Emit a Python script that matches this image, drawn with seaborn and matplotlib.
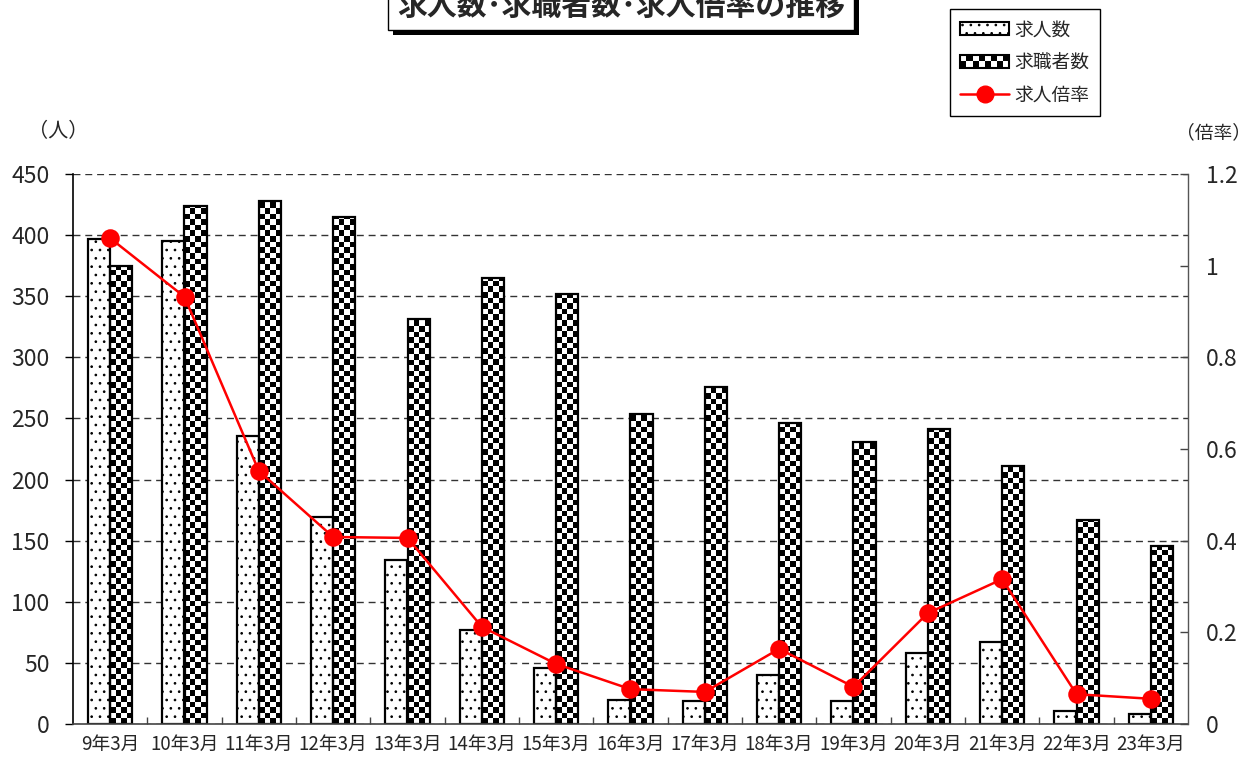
import numpy as np
import pandas as pd
import matplotlib
matplotlib.use('Agg')
import matplotlib.pyplot as plt
import matplotlib.patheffects as pe
from matplotlib.patches import Rectangle
from matplotlib.lines import Line2D
from matplotlib.legend_handler import HandlerBase
import seaborn as sns

# Data
months = ['9年3月', '10年3月', '11年3月', '12年3月', '13年3月', '14年3月', '15年3月',
          '16年3月', '17年3月', '18年3月', '19年3月', '20年3月', '21年3月', '22年3月', '23年3月']
openings = [397, 395, 236, 169, 134, 77, 46, 20, 19, 40, 19, 58, 67, 11, 8]
seekers = [375, 424, 428, 415, 331, 365, 352, 254, 276, 246, 231, 241, 211, 167, 146]
ratio = [1.06, 0.932, 0.552, 0.408, 0.406, 0.212, 0.131, 0.076, 0.070, 0.164,
         0.081, 0.242, 0.316, 0.065, 0.055]
series = ['求人数', '求職者数', '求人倍率']
left_ticks = [0, 50, 100, 150, 200, 250, 300, 350, 400, 450]
right_ticks = [0, 0.2, 0.4, 0.6, 0.8, 1.0, 1.2]
right_labels = ['0', '0.2', '0.4', '0.6', '0.8', '1', '1.2']

df = pd.DataFrame({
    'month': months * 2,
    'value': openings + seekers,
    'series': [series[0]] * len(months) + [series[1]] * len(months),
})

sns.set_theme(style='white')
plt.rcParams['font.family'] = ['Noto Sans CJK JP', 'DejaVu Sans']
plt.rcParams['hatch.linewidth'] = 0.7

fig = plt.figure(figsize=(12.53, 7.57), dpi=100)
fig.subplots_adjust(left=73 / 1253, right=1188 / 1253, bottom=33 / 757, top=1 - 174 / 757)
ax = fig.add_subplot(111)

sns.barplot(data=df, x='month', y='value', hue='series', palette=['white', 'white'],
            saturation=1, edgecolor='black', linewidth=1.6, width=0.6, legend=False, ax=ax)
ax.set_xlim(-0.5, len(months) - 0.5)
ax.set_ylim(0, 450)

# dotted bars
for bar in ax.containers[0]:
    bar.set_hatch('..')
    bar.set_zorder(2)

# checkerboard bars: an image clipped to each bar
sx = ax.transData.transform((1, 0))[0] - ax.transData.transform((0, 0))[0]
sy = ax.transData.transform((0, 1))[1] - ax.transData.transform((0, 0))[1]
cell_px = 5.6
for bar in ax.containers[1]:
    x0, y0, w, h = bar.get_x(), bar.get_y(), bar.get_width(), bar.get_height()
    ncol = max(1, int(round(w * sx / cell_px)))
    cy = cell_px / sy
    nrow = int(np.ceil(h / cy))
    grid = np.indices((nrow, ncol)).sum(axis=0) % 2
    img = ax.imshow(grid, cmap='gray', vmin=0, vmax=1, origin='lower', aspect='auto',
                    interpolation='nearest', extent=(x0, x0 + w, y0, y0 + nrow * cy), zorder=1.5)
    img.set_clip_path(bar)
    bar.set_facecolor('none')
    bar.set_zorder(2)

ax.set_xlim(-0.5, len(months) - 0.5)
ax.set_ylim(0, 450)
ax.set_yticks(left_ticks)
ax.set_axisbelow(True)
ax.yaxis.grid(True, linestyle=(0, (5, 3.5)), color='#333333', linewidth=1)
ax.xaxis.grid(False)
ax.set_xlabel('')
ax.set_ylabel('')
ax.tick_params(axis='y', direction='out', length=6, width=1, color='black', pad=11, labelsize=16.5)
ax.tick_params(axis='x', which='major', length=0, pad=7, labelsize=13.5)
ax.set_xticks(np.arange(0.5, len(months) - 1, 1), minor=True)
ax.tick_params(axis='x', which='minor', direction='in', length=5, width=1, color='#444444', bottom=True)
for s in ['top', 'right']:
    ax.spines[s].set_visible(False)
ax.spines['left'].set_color('black')
ax.spines['left'].set_linewidth(1.2)
ax.spines['bottom'].set_color('#444444')
ax.spines['bottom'].set_linewidth(1.2)

# ratio line on the right axis
ax2 = ax.twinx()
sns.pointplot(x=months, y=ratio, ax=ax2, color='red', markers='o', markersize=12,
              linewidth=1.8, errorbar=None)
for ln in ax2.lines:
    ln.set_color('red')
    ln.set_markerfacecolor('red')
    ln.set_markeredgecolor('red')
ax2.set_xlim(-0.5, len(months) - 0.5)
ax2.set_ylim(0, 1.2)
ax2.set_yticks(right_ticks)
ax2.set_yticklabels(right_labels)
ax2.set_xlabel('')
ax2.set_ylabel('')
ax2.grid(False)
ax2.tick_params(axis='y', direction='in', length=6, width=1, color='#444444', pad=13, labelsize=16.5)
for s in ['top', 'left', 'bottom']:
    ax2.spines[s].set_visible(False)
ax2.spines['right'].set_color('#555555')
ax2.spines['right'].set_linewidth(1)

# axis unit labels
fig.text(58 / 1253, 1 - 132 / 757, '（人）', ha='center', va='center', fontsize=14.5)
fig.text(1251 / 1253, 1 - 133 / 757, '（倍率）', ha='right', va='center', fontsize=13.5)

# boxed title with shadow (the reference cuts it at the top edge)
title = fig.text(621 / 1253, 1 - 6 / 757, '求人数･求職者数･求人倍率の推移', ha='center', va='center',
                 fontsize=21.5, fontweight='bold',
                 bbox=dict(boxstyle='square,pad=0.3', facecolor='white', edgecolor='black', linewidth=1))
title.get_bbox_patch().set_path_effects(
    [pe.withSimplePatchShadow(offset=(3.5, -3.5), shadow_rgbFace='black', alpha=1)])


class CheckerHandler(HandlerBase):
    def create_artists(self, legend, orig_handle, xdescent, ydescent, width, height, fontsize, trans):
        x0, y0 = -xdescent, -ydescent
        ncol, nrow = 8, 2
        cw, ch = width / ncol, height / nrow
        arts = [Rectangle((x0, y0), width, height, facecolor='white', edgecolor='none', transform=trans)]
        for i in range(nrow):
            for j in range(ncol):
                if (i + j) % 2 == 0:
                    arts.append(Rectangle((x0 + j * cw, y0 + i * ch), cw, ch, facecolor='black',
                                          edgecolor='none', transform=trans))
        arts.append(Rectangle((x0, y0), width, height, facecolor='none', edgecolor='black',
                              linewidth=1.5, transform=trans))
        return arts


h_dot = Rectangle((0, 0), 1, 1, facecolor='white', edgecolor='black', hatch='..', linewidth=1.5)
h_chk = Rectangle((0, 0), 1, 1, facecolor='white', edgecolor='black')
h_line = Line2D([], [], color='red', marker='o', markersize=12, linewidth=1.8)
leg = fig.legend(handles=[h_dot, h_chk, h_line], labels=series, handler_map={h_chk: CheckerHandler()},
                 loc='upper left', bbox_to_anchor=(950 / 1253, 1 - 9 / 757), frameon=True,
                 fancybox=False, edgecolor='black', framealpha=1, fontsize=13.5,
                 handlelength=2.6, handleheight=0.65, handletextpad=0.3, labelspacing=0.62,
                 borderpad=0.55, borderaxespad=0, numpoints=1)
leg.get_frame().set_linewidth(1.0)

fig.savefig('out.png', dpi=100)
